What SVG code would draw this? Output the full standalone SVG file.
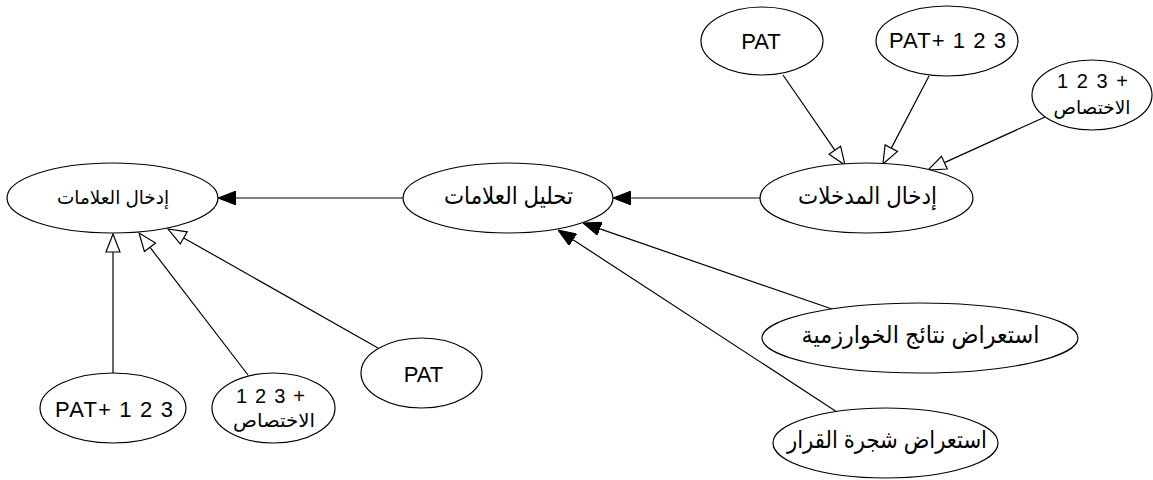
<svg xmlns="http://www.w3.org/2000/svg" width="1153" height="480" viewBox="0 0 1153 480">
<style>
.n ellipse{fill:#fff;stroke:#000;stroke-width:1.2}
.lat{font-family:"Liberation Sans",Arial,sans-serif;font-size:22px;fill:#000;text-anchor:middle}
.dig{font-family:"Liberation Sans",Arial,sans-serif;font-size:20px;fill:#000;text-anchor:middle}
.ar{font-family:"Liberation Sans","DejaVu Sans",sans-serif;font-size:24px;fill:#000;text-anchor:middle}
.ars{font-family:"Liberation Sans","DejaVu Sans",sans-serif;font-size:19px;fill:#000;text-anchor:middle}
.e line{stroke:#000;stroke-width:1.2}
.f{marker-end:url(#fill)}
.h{marker-end:url(#hollow)}
</style>
<defs>
<marker id="fill" viewBox="0 0 18 14" refX="0" refY="7" markerWidth="18" markerHeight="14" markerUnits="userSpaceOnUse" orient="auto">
<path d="M0,0 L18,7 L0,14 z" fill="#000" stroke="#000" stroke-width="1"/>
</marker>
<marker id="hollow" viewBox="-1 -1 20 16" refX="0" refY="7" markerWidth="20" markerHeight="16" markerUnits="userSpaceOnUse" orient="auto">
<path d="M0,0 L18,7 L0,14 z" fill="#fff" stroke="#000" stroke-width="1.2"/>
</marker>
</defs>
<rect width="1153" height="480" fill="#fff"/>
<g id="edges" class="e">
<line class="h" x1="783" y1="75" x2="834.8" y2="150.2"/>
<line class="h" x1="929" y1="76" x2="891.3" y2="148.1"/>
<line class="h" x1="1045" y1="117" x2="944.4" y2="162.6"/>
<line class="f" x1="760" y1="198" x2="631" y2="198"/>
<line class="f" x1="403" y1="198" x2="236" y2="198"/>
<line class="f" x1="832" y1="309" x2="600" y2="228.9"/>
<line class="f" x1="837" y1="412" x2="573.1" y2="239.8"/>
<line class="h" x1="113" y1="373" x2="113" y2="252"/>
<line class="h" x1="248" y1="375" x2="150" y2="247.3"/>
<line class="h" x1="378" y1="348" x2="183.7" y2="237.9"/>
</g>
<g id="pat_top" class="n"><ellipse cx="762" cy="41" rx="61" ry="34"/><text class="lat" x="761" y="48.5">PAT</text></g>
<g id="pat123_top" class="n"><ellipse cx="947" cy="41" rx="71" ry="35"/><text class="lat" x="947.5" y="48" textLength="117" lengthAdjust="spacing">PAT+ 1 2 3</text></g>
<g id="ikh_top" class="n"><ellipse cx="1092" cy="95" rx="60" ry="35"/><text class="dig" x="1092.5" y="88" textLength="71" lengthAdjust="spacing">1 2 3 +</text><text class="ars" x="1092" y="114" textLength="77" lengthAdjust="spacingAndGlyphs">الاختصاص</text></g>
<g id="idkhal_mudkhalat" class="n"><ellipse cx="866.5" cy="198" rx="106.5" ry="35"/><text class="ar" x="867.5" y="204" textLength="139" lengthAdjust="spacingAndGlyphs">إدخال المدخلات</text></g>
<g id="tahlil" class="n"><ellipse cx="508" cy="198" rx="105" ry="35"/><text class="ar" x="508.5" y="204" textLength="129" lengthAdjust="spacingAndGlyphs">تحليل العلامات</text></g>
<g id="idkhal_alamat" class="n"><ellipse cx="112.5" cy="198" rx="105.5" ry="35"/><text class="ars" x="113" y="203.5" textLength="112" lengthAdjust="spacingAndGlyphs">إدخال العلامات</text></g>
<g id="pat123_bottom" class="n"><ellipse cx="113" cy="408" rx="73" ry="35"/><text class="lat" x="114" y="416.5" textLength="118" lengthAdjust="spacing">PAT+ 1 2 3</text></g>
<g id="ikh_bottom" class="n"><ellipse cx="273.5" cy="408" rx="61.5" ry="35"/><text class="dig" x="270.5" y="402.5" textLength="69" lengthAdjust="spacing">1 2 3 +</text><text class="ars" x="274" y="427" textLength="82" lengthAdjust="spacingAndGlyphs">الاختصاص</text></g>
<g id="pat_bottom" class="n"><ellipse cx="421.5" cy="373" rx="60.5" ry="35"/><text class="lat" x="423.5" y="381.5">PAT</text></g>
<g id="nataij" class="n"><ellipse cx="920" cy="338" rx="158" ry="35"/><text class="ar" x="920.5" y="343" textLength="238" lengthAdjust="spacingAndGlyphs">استعراض نتائج الخوارزمية</text></g>
<g id="shajara" class="n"><ellipse cx="885.5" cy="443" rx="112.5" ry="35"/><text class="ar" x="887" y="448" textLength="200" lengthAdjust="spacingAndGlyphs">استعراض شجرة القرار</text></g>
</svg>
